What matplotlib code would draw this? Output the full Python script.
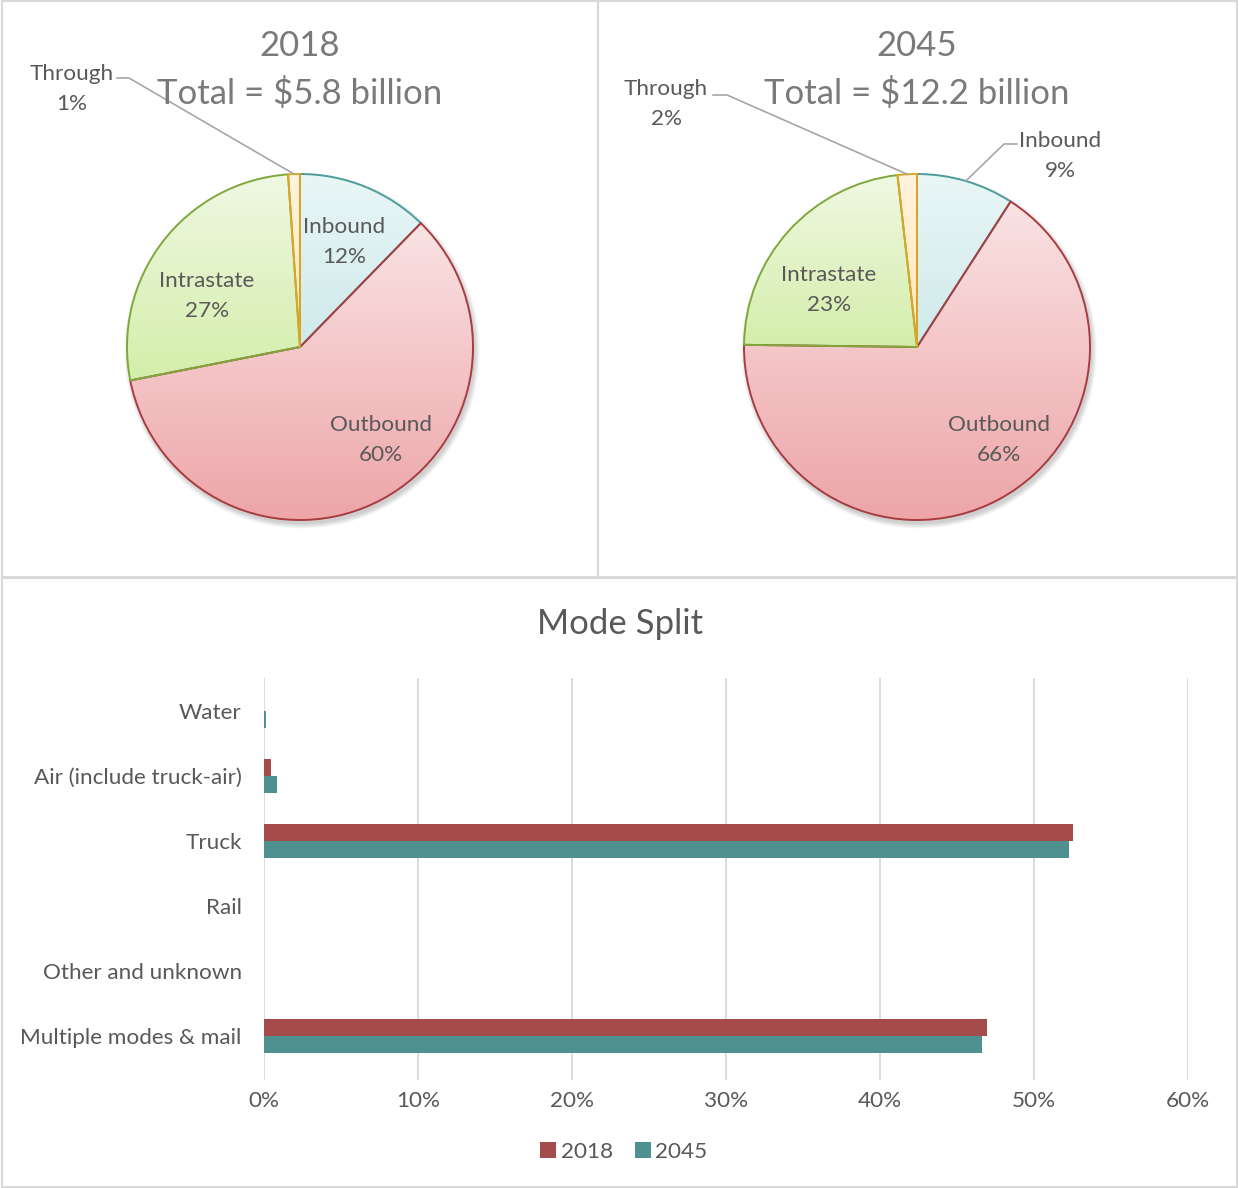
import matplotlib
matplotlib.use('Agg')
import matplotlib.pyplot as plt
import numpy as np
from matplotlib.patches import Rectangle, Circle
from matplotlib.colors import to_rgb

plt.rcParams['font.family'] = ['Lato', 'DejaVu Sans']

# ---------------- data ----------------
pie_names = ['Inbound', 'Outbound', 'Intrastate', 'Through']
share_2018 = [12.3, 59.6, 27.0, 1.1]
share_2045 = [9.1, 66.1, 23.0, 1.8]
pie_years = ['2018', '2045']
pie_totals = ['Total = $5.8 billion', 'Total = $12.2 billion']

modes = ['Water', 'Air (include truck-air)', 'Truck', 'Rail',
         'Other and unknown', 'Multiple modes & mail']
mode_2018 = [0.0, 0.45, 52.5, 0.0, 0.0, 46.95]
mode_2045 = [0.15, 0.85, 52.3, 0.0, 0.0, 46.6]
series_names = ['2018', '2045']
x_ticks = [0, 10, 20, 30, 40, 50, 60]

# ---------------- style ----------------
W, H = 1239, 1188
fig = plt.figure(figsize=(W / 100, H / 100), dpi=100)
TXT = '#595959'
TITLE = '#7a7a7a'
GRID = '#d9d9d9'
FS = 16.2

edge_cols = ['#4f9c9c', '#a83c40', '#7fa83a', '#dba526']
grad_cols = [('#e9f6f6', '#cfeaea'), ('#fae3e4', '#eda5a8'),
             ('#eff8e3', '#d4eeaa'), ('#fff3dd', '#ffe5b5')]


def fx(x):
    return x / W


def fy(y):
    return 1 - y / H


def pie_panel(panel, center, values, year, total, label_pos, leaders):
    l, t, r, b = panel
    R = 173.0
    cx, cy = center
    ax = fig.add_axes([fx(l), fy(b), (r - l) / W, (b - t) / H])
    # shadow
    for i in range(8):
        ax.add_patch(Circle((0.012, -0.022), 1.0 + 0.004 * i, color='#000000',
                            alpha=0.025, lw=0, zorder=0))
    ax.add_patch(Circle((0, 0), 1.0, color='white', lw=0, zorder=0.5))
    wedges, _ = ax.pie(values, startangle=90, counterclock=False,
                       colors=['none'] * len(values),
                       wedgeprops=dict(linewidth=1.4))
    cum = 0.0
    tot = sum(values)
    mids = []
    for w, v, ec, (c1, c2) in zip(wedges, values, edge_cols, grad_cols):
        w.set_edgecolor(ec)
        w.set_zorder(3)
        ext = w.get_path().get_extents()
        g = np.linspace(0, 1, 256)[:, None]
        a, bcol = np.array(to_rgb(c1)), np.array(to_rgb(c2))
        img = a[None, None, :] * (1 - g[:, :, None]) + bcol[None, None, :] * g[:, :, None]
        im = ax.imshow(img, extent=[ext.x0, ext.x1, ext.y0, ext.y1],
                       origin='upper', aspect='auto', zorder=2,
                       interpolation='bilinear')
        im.set_clip_path(w)
        mid = np.deg2rad(90 - (cum + v / 2) / tot * 360)
        mids.append(mid)
        cum += v
    ax.set_xlim((l - cx) / R, (r - cx) / R)
    ax.set_ylim((cy - b) / R, (cy - t) / R)
    ax.set_aspect('auto')
    ax.axis('off')
    for name, v, (px, py) in zip(pie_names, values, label_pos):
        ax.text((px - cx) / R, (cy - py) / R, f'{name}\n{round(v)}%',
                ha='center', va='center', fontsize=FS, color=TXT,
                linespacing=1.6, zorder=5)
    for idx, pts in leaders:
        xs = [(p[0] - cx) / R for p in pts] + [np.cos(mids[idx])]
        ys = [(cy - p[1]) / R for p in pts] + [np.sin(mids[idx])]
        ax.plot(xs, ys, color='#a6a6a6', lw=1.2, zorder=4)
    fig.text(fx(cx), fy(46), year, ha='center', va='center', fontsize=25, color=TITLE)
    fig.text(fx(cx), fy(93), total, ha='center', va='center', fontsize=25, color=TITLE)


pie_panel((2, 0, 598, 577), (300, 347), share_2018, pie_years[0], pie_totals[0],
          [(344, 242), (381, 440), (207, 296), (72, 89)],
          [(3, [(117, 78), (129, 78)])])
pie_panel((599, 0, 1237, 577), (917, 347), share_2045, pie_years[1], pie_totals[1],
          [(1060, 156), (999, 440), (829, 290), (666, 104)],
          [(3, [(713, 95), (727, 95)]), (0, [(1017, 144), (1004, 144)])])

# ---------------- bar chart ----------------
bx = fig.add_axes([fx(264), fy(1080), (1188 - 264) / W, (1080 - 678) / H])
y = np.arange(len(modes))
h = 0.262
bx.barh(y - h / 2, mode_2018, height=h, color='#a54b4b', label=series_names[0], zorder=3)
bx.barh(y + h / 2, mode_2045, height=h, color='#4f9190', label=series_names[1], zorder=3)
bx.set_ylim(5.68, -0.5)
bx.set_xlim(0, 60)
bx.set_xticks(x_ticks)
bx.set_xticklabels([f'{t}%' for t in x_ticks])
bx.set_yticks(y)
bx.set_yticklabels(modes)
bx.tick_params(axis='both', length=0, labelsize=FS, labelcolor=TXT)
bx.tick_params(axis='y', pad=16)
bx.tick_params(axis='x', pad=8)
bx.grid(axis='x', color=GRID, lw=1.3, zorder=0)
for s in bx.spines.values():
    s.set_visible(False)
fig.text(fx(620), fy(624), 'Mode Split', ha='center', va='center', fontsize=25, color=TXT)
fig.legend(*bx.get_legend_handles_labels(), loc='center',
           bbox_to_anchor=(fx(624), fy(1152)), ncol=2, frameon=False,
           fontsize=FS, labelcolor=TXT, handlelength=0.7, handleheight=0.7,
           columnspacing=1.0, handletextpad=0.2)

# ---------------- panel borders ----------------
for (l, t, r, b) in [(2, 1, 598, 577), (598, 1, 1237, 577), (2, 578, 1237, 1187)]:
    fig.add_artist(Rectangle((fx(l), fy(b)), (r - l) / W, (b - t) / H,
                             transform=fig.transFigure, fill=False,
                             edgecolor=GRID, lw=1.5))

fig.savefig('out.png', dpi=100)
